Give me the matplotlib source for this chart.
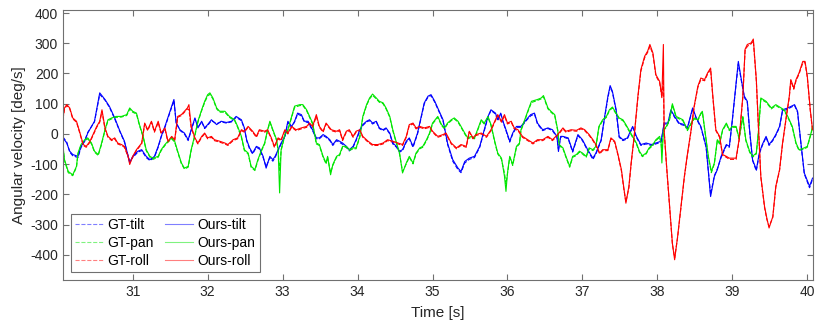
import matplotlib
matplotlib.use('Agg')
import matplotlib.pyplot as plt

plt.rcParams['font.family'] = ['Liberation Sans', 'DejaVu Sans']
plt.rcParams['axes.unicode_minus'] = False

# ---- tilt (blue) ----
tilt_t = [30.07, 30.12, 30.16, 30.20, 30.27, 30.31, 30.36, 30.40, 30.49, 30.56,
          30.63, 30.69, 30.76, 30.83, 30.89, 30.96, 31.00, 31.07, 31.12, 31.18,
          31.23, 31.29, 31.34, 31.38, 31.43, 31.49, 31.55, 31.58, 31.63, 31.69, 31.74,
          31.78, 31.83, 31.87, 31.92, 31.96, 32.00, 32.05, 32.12, 32.18, 32.25,
          32.32, 32.38, 32.45, 32.49, 32.52, 32.56, 32.60, 32.65, 32.69, 32.74,
          32.78, 32.83, 32.87, 32.90, 32.94, 32.98, 33.03, 33.07, 33.12, 33.16,
          33.20, 33.25, 33.29, 33.34, 33.40,
          33.45, 33.49, 33.54, 33.58, 33.63, 33.67, 33.72, 33.76, 33.80, 33.85,
          33.89, 33.94, 33.98, 34.03, 34.07, 34.12, 34.16, 34.20, 34.25, 34.29,
          34.34, 34.38, 34.43, 34.47, 34.52, 34.56, 34.60, 34.65, 34.69, 34.74,
          34.80, 34.85, 34.89, 34.94, 34.98, 35.03, 35.07,
          35.14, 35.20, 35.27, 35.34, 35.38, 35.43, 35.49, 35.56, 35.63, 35.69,
          35.74, 35.78, 35.84, 35.87, 35.91, 35.94, 35.98, 36.03, 36.07, 36.12,
          36.18, 36.25, 36.31, 36.36, 36.40, 36.47, 36.54, 36.60, 36.66, 36.68, 36.71,
          36.74, 36.81, 36.87, 36.94, 37.00, 37.07, 37.14, 37.18, 37.25, 37.29,
          37.34, 37.37, 37.40, 37.45, 37.49, 37.54, 37.60, 37.67, 37.72, 37.78,
          37.85, 37.92, 37.98, 38.05, 38.09, 38.14, 38.18, 38.23, 38.29, 38.36, 38.40,
          38.47, 38.52, 38.58, 38.65, 38.69, 38.71, 38.76, 38.80, 38.85, 38.92,
          38.96, 39.00, 39.05, 39.08, 39.12, 39.16, 39.20, 39.23, 39.27, 39.32,
          39.36, 39.40, 39.45, 39.49, 39.54, 39.58, 39.63, 39.67, 39.74, 39.78,
          39.83, 39.87, 39.92, 39.96, 40.03, 40.07]
ours_tilt = [-13, -30, -57, -68, -74, -41, -24, 3, 42, 136, 114, 91, 53, 9, -24, -96, -74, -57, -52, -74,
             -85, -74, -41, -8, 25, 69, 114, 36, 14, 3, -19,
             14, 53, 20, 42, 20, 31, 47, 31, 42, 38, 42, 58, 47, 20, -19, -46, -63, -41, -46, -74,
             -113, -74, -85, -74, -52, -30, -8, 42, 25, 42, 69, 64, 42, 42, 14,
             -13, -13, -2, -8, -19, -35, -19, -24, -30, -41, -52, -41, -19, 14, 31, 42, 47, 36, 42, 20,
             14, 20, 3, -30, -41, -57, -52, -24, -13, -41, 3, 58, 103, 125, 130, 108, 86,
             47, -30, -85, -113, -124, -91, -80, -74, -41, 14, 58, 80, 69, 47, 69, 42, 14, -24, 3, 25,
             25, 47, 64, 69, 36, 14, 20, 14, -8, -58, -8,
             -8, -13, -57, -2, -19, -52, -80, -63, -19, 47, 125, 160, 141, 80, -8, -19, -13, 25, -8, -35,
             -30, -35, -30, -24, 36, 36, 80, 58, 36, 31, 20,
             86, 53, 25, -41, -151, -207, -141, -118, -74, -35, -41, 47, 169, 240, 180, 125, 108, 14, -85, -118,
             -63, -35, -8, -35, -19, -2, 25, 80, 86, 91, 97, 75, -41, -129, -173, -146]
gt_tilt = [-10, -27, -60, -72, -78, -45, -22, 5, 40, 131, 112, 88, 50, 7, -27, -92, -78, -60, -55, -78,
           -88, -77, -44, -10, 22, 66, 110, 38, 12, 0, -22,
           11, 50, 22, 40, 18, 28, 44, 34, 40, 36, 40, 55, 44, 18, -22, -50, -66, -44, -50, -78,
           -108, -78, -90, -78, -55, -33, -10, 38, 22, 40, 66, 60, 40, 38, 11,
           -16, -16, -5, -11, -22, -38, -22, -28, -34, -44, -56, -44, -22, 10, 28, 40, 44, 33, 40, 18,
           11, 18, 0, -33, -44, -60, -55, -27, -16, -44, 0, 55, 100, 122, 127, 105, 83,
           44, -34, -90, -118, -128, -96, -84, -78, -44, 10, 55, 78, 66, 44, 66, 40, 11, -27, 0, 22,
           22, 44, 60, 66, 33, 11, 18, 11, -11, -50, -10,
           -10, -16, -60, -5, -22, -55, -84, -66, -22, 44, 120, 155, 138, 76, -11, -22, -16, 22, -11, -38,
           -33, -38, -33, -27, 33, 33, 76, 55, 33, 28, 18,
           82, 50, 22, -44, -146, -200, -138, -115, -78, -38, -44, 44, 165, 232, 176, 121, 104, 11, -88, -122,
           -66, -38, -11, -38, -22, -5, 22, 76, 82, 88, 94, 72, -44, -132, -178, -150]

# ---- pan (green) ----
pan_t = [30.07, 30.09, 30.14, 30.20, 30.25, 30.27, 30.31, 30.36, 30.40, 30.45,
         30.49, 30.54, 30.58, 30.63, 30.67, 30.72, 30.78, 30.85, 30.92, 30.96,
         31.00, 31.05, 31.09, 31.14, 31.18, 31.23, 31.27, 31.34, 31.38, 31.43,
         31.47, 31.52, 31.56, 31.60, 31.65, 31.69, 31.74,
         31.78, 31.83, 31.87, 31.92, 31.96, 32.00, 32.03, 32.07, 32.12, 32.16,
         32.23, 32.29, 32.36, 32.40, 32.45, 32.49, 32.54, 32.58, 32.63, 32.67,
         32.72, 32.76, 32.80, 32.83, 32.87, 32.92, 32.94, 32.96, 32.98, 33.03,
         33.07, 33.12, 33.16, 33.23, 33.27, 33.32, 33.36, 33.40,
         33.45, 33.49, 33.54, 33.58, 33.60, 33.64, 33.67, 33.72, 33.76, 33.80,
         33.85, 33.89, 33.94, 33.98, 34.03, 34.07, 34.12, 34.16, 34.20, 34.25,
         34.29, 34.34, 34.38, 34.43, 34.47, 34.52, 34.56, 34.60, 34.65, 34.69,
         34.74, 34.78, 34.83, 34.87, 34.92, 34.96, 35.00, 35.07,
         35.12, 35.16, 35.20, 35.25, 35.29, 35.34, 35.38, 35.43, 35.47, 35.52,
         35.56, 35.60, 35.65, 35.69, 35.74, 35.78, 35.83, 35.87, 35.92, 35.96,
         35.98, 36.00, 36.03, 36.07, 36.12, 36.16, 36.18, 36.23, 36.27, 36.32,
         36.40, 36.45, 36.48, 36.54, 36.58, 36.63, 36.67, 36.69, 36.74,
         36.78, 36.83, 36.87, 36.92, 36.96, 37.00, 37.05, 37.09, 37.14, 37.18,
         37.22, 37.27, 37.32, 37.36, 37.40, 37.45, 37.49, 37.54, 37.58, 37.63,
         37.67, 37.72, 37.76, 37.80, 37.85, 37.89, 37.94, 37.98, 38.03, 38.05,
         38.06, 38.08, 38.12, 38.16, 38.20, 38.25, 38.29, 38.34, 38.38,
         38.40, 38.45, 38.49, 38.54, 38.58, 38.60, 38.65, 38.68, 38.72, 38.76,
         38.80, 38.83, 38.87, 38.92, 38.96, 39.00, 39.05, 39.09, 39.14, 39.18,
         39.23, 39.27, 39.32, 39.35, 39.38, 39.45, 39.52, 39.58, 39.65, 39.69,
         39.74, 39.80, 39.85, 39.89, 39.96, 40.00, 40.05, 40.07]
ours_pan = [-41, -85, -124, -135, -107, -63, -35, -19, -13, -30, -57, -68, -35, 14, 47, 53, 58, 58, 64, 86,
            75, 69, 31, -8, -52, -74, -80, -74, -52, -35, -24, -13, -24, -57, -96, -113, -107,
            -52, -2, 42, 80, 108, 130, 136, 119, 86, 75, 75, 58, 47, 25, -8, -52, -63, -107, -118, -85,
            -52, -30, 14, 42, 14, -19, -52, -195, -52, -2, 14, 58, 92, 97, 97, 80, 58, 36,
            -30, -35, -74, -96, -74, -135, -101, -74, -68, -41, -41, -52, -46, -46, -8, 58, 97, 119, 132, 119,
            108, 103, 86, 58, 14, -30, -63, -129, -96, -74, -96, -63, -46, -41, -19, 3, 36, 58,
            31, 20, 36, 47, 53, 42, 25, 3, -13, -8, -13, 14, 47, 36, 58, 31, -24, -63, -80, -140,
            -190, -129, -74, -101, -41, -30, 14, 47, 75, 108, 114, 119, 127, 86, 75, 64, 14, -35, -46,
            -74, -107, -74, -68, -57, -63, -74, -46, -52, -41, 25, 47, 58, 80, 89, 69, 53, 47, 31, 9,
            -8, -30, -57, -72, -63, -46, -35, -19, -8, -30, -96, 14, 25, 47, 100, 58, 53, 47, 25,
            14, 36, 53, 47, 69, 75, -19, -74, -124, -96, -19, -30, 14, 36, 14, 25, 25, -13, 58, -19,
            -57, -74, -63, 14, 119, 108, 86, 97, 86, 80, 58, 25, -30, -52, -46, -41, 3, 25]
gt_pan = [-44, -88, -128, -138, -110, -66, -38, -22, -16, -33, -60, -71, -38, 11, 44, 50, 55, 56, 61, 82,
          72, 66, 28, -11, -55, -77, -84, -77, -55, -38, -27, -16, -27, -60, -99, -116, -110,
          -55, -5, 39, 77, 104, 126, 131, 116, 83, 72, 72, 55, 44, 22, -11, -55, -66, -110, -121, -88,
          -55, -33, 11, 39, 11, -22, -55, -120, -55, -5, 11, 55, 88, 94, 94, 77, 55, 33,
          -33, -38, -77, -99, -77, -128, -104, -77, -71, -44, -44, -55, -49, -49, -11, 55, 94, 116, 128, 116,
          105, 100, 83, 55, 11, -33, -66, -124, -99, -77, -99, -66, -49, -44, -22, 0, 33, 55,
          28, 17, 33, 44, 50, 39, 22, 0, -16, -11, -16, 11, 44, 33, 55, 28, -27, -66, -84, -130,
          -165, -132, -77, -104, -44, -33, 11, 44, 72, 104, 111, 116, 123, 83, 72, 61, 11, -38, -49,
          -77, -110, -77, -71, -60, -66, -77, -49, -55, -44, 22, 44, 55, 77, 86, 66, 50, 44, 28, 6,
          -11, -33, -60, -75, -66, -49, -38, -22, -11, -33, -60, 11, 22, 44, 96, 55, 50, 44, 22,
          11, 33, 50, 44, 66, 72, -22, -77, -128, -99, -22, -33, 11, 33, 11, 22, 22, -16, 55, -22,
          -60, -77, -66, 11, 115, 105, 83, 94, 83, 77, 55, 22, -33, -55, -49, -44, 0, 22]

# ---- roll (red) ----
roll_t = [30.07, 30.09, 30.12, 30.16, 30.20, 30.25, 30.29, 30.34, 30.38, 30.43,
          30.47, 30.52, 30.56, 30.59, 30.63, 30.67, 30.72, 30.76, 30.80, 30.85,
          30.89, 30.94, 30.96, 31.00, 31.05, 31.12, 31.16, 31.20, 31.25, 31.29,
          31.34, 31.38, 31.43, 31.47, 31.52, 31.56, 31.60, 31.65, 31.69, 31.73,
          31.75, 31.78, 31.83, 31.87, 31.92, 31.96, 32.00, 32.05, 32.09, 32.16,
          32.23, 32.27, 32.34, 32.40, 32.45, 32.49, 32.54, 32.60, 32.65, 32.69,
          32.76, 32.80, 32.85, 32.89, 32.94, 32.98, 33.03, 33.07, 33.12, 33.18,
          33.25, 33.32, 33.36, 33.40,
          33.45, 33.49, 33.54, 33.58, 33.65, 33.72, 33.76, 33.80, 33.85, 33.89,
          33.94, 33.98, 34.03, 34.07, 34.14, 34.20, 34.27, 34.34, 34.40, 34.47,
          34.54, 34.60, 34.65, 34.69, 34.74, 34.78, 34.83, 34.89, 34.96, 35.00, 35.07,
          35.14, 35.18, 35.25, 35.32, 35.38, 35.45, 35.49, 35.54, 35.58, 35.65,
          35.72, 35.78, 35.83, 35.87, 35.92, 35.96, 36.00, 36.05, 36.09, 36.14,
          36.20, 36.27, 36.34, 36.40, 36.47, 36.54, 36.60, 36.67, 36.74,
          36.78, 36.85, 36.92, 36.98, 37.03, 37.09, 37.14, 37.18, 37.23, 37.27,
          37.34, 37.38, 37.43, 37.47, 37.52, 37.55, 37.58, 37.62, 37.65, 37.69,
          37.74, 37.78, 37.83, 37.87, 37.90, 37.94, 37.98, 38.03, 38.06, 38.08,
          38.09, 38.12, 38.16, 38.20, 38.23, 38.27, 38.32, 38.36, 38.40,
          38.45, 38.49, 38.54, 38.58, 38.63, 38.67, 38.71, 38.74, 38.78, 38.83,
          38.87, 38.92, 38.96, 39.05, 39.09, 39.14, 39.17, 39.20, 39.25, 39.28,
          39.32, 39.35, 39.38, 39.43, 39.46, 39.49, 39.54, 39.58, 39.63, 39.67,
          39.72, 39.76, 39.78, 39.82, 39.85, 39.89, 39.94, 39.97, 40.00, 40.04, 40.07]
ours_roll = [53, 86, 97, 86, 53, 42, 9, -35, -41, -24, -2, 25, 42, 80, 20, -8, -19, -13, -30, -35,
             -41, -74, -101, -74, -52, -30, 36, 14, 42, 9, 42, 3, 20, -24, -8, -19, 58, 64, 75, 86,
             97, 25, -13, -30, -8, 3, -13, -8, -19, -24, -30, -35, -19, -13, 14, 9, 25, 9, -8, 14,
             9, 14, -13, -41, -13, -19, 14, 3, 25, 14, 20, 25, 36, 25,
             64, 25, 9, 36, 14, 9, 14, -19, 9, 14, -8, 9, 14, -8, -24, -35, -35, -30, -19, -24,
             -30, -35, -8, 31, 36, 20, 25, 20, 25, 9, -8,
             -2, 3, -30, -46, -35, -41, 9, -13, -2, 3, -8, 14, 42, 64, 42, 64, 36, 42, 20, 14,
             -8, -19, -30, -19, -19, -8, -19, -2, 20,
             9, 14, 12, 20, 14, -2, -19, -35, -63, -52, -52, -13, -24, -63, -118, -173, -229, -173, -96, -8,
             125, 213, 257, 274, 296, 268, 196, 174, 124, 296, 14, -96, -229, -361, -416, -339, -229, -140, -68,
             14, 91, 158, 185, 180, 202, 218, 125, 14, -8, -68, -74, -80, -80, -19, 125, 280, 296, 301, 314,
             180, 14, -140, -240, -278, -311, -273, -173, -118, -30, 58, 125, 180, 152, 180, 202, 240, 240, 191, 80, 14]
gt_roll = [50, 82, 94, 83, 50, 39, 6, -38, -44, -27, -5, 22, 39, 74, 17, -11, -22, -16, -33, -38,
           -44, -77, -96, -77, -55, -33, 33, 11, 39, 6, 38, 0, 17, -27, -11, -22, 55, 61, 72, 83,
           80, 22, -16, -33, -11, 0, -16, -11, -22, -27, -33, -38, -22, -16, 11, 6, 22, 6, -11, 11,
           6, 11, -16, -44, -16, -22, 11, 0, 22, 11, 17, 22, 33, 22,
           58, 22, 6, 33, 11, 6, 11, -22, 6, 11, -11, 6, 11, -11, -27, -38, -38, -33, -22, -27,
           -33, -38, -11, 28, 33, 17, 22, 17, 22, 6, -11,
           -5, 0, -33, -49, -38, -44, 6, -16, -5, 0, -11, 11, 39, 60, 39, 60, 33, 39, 17, 11,
           -11, -22, -33, -22, -22, -11, -22, -5, 17,
           6, 11, 9, 17, 11, -5, -22, -38, -66, -55, -55, -16, -27, -66, -122, -178, -225, -178, -99, -11,
           120, 208, 252, 270, 290, 264, 192, 170, 120, 180, 11, -99, -232, -364, -410, -342, -232, -143, -71,
           11, 88, 154, 180, 176, 198, 214, 121, 11, -11, -71, -77, -84, -84, -22, 121, 276, 290, 298, 308,
           176, 11, -143, -244, -282, -306, -276, -176, -121, -33, 55, 121, 176, 148, 176, 198, 235, 236, 188, 77, 11]

fig = plt.figure(figsize=(8.3, 3.32), dpi=100)
ax = fig.add_axes([0.0759, 0.1566, 0.9036, 0.8133])

lw = 0.8
ax.plot(tilt_t, gt_tilt, '--', color='#0000ff', lw=lw, label='GT-tilt')
ax.plot(pan_t, gt_pan, '--', color='#00e600', lw=lw, label='GT-pan')
ax.plot(roll_t, gt_roll, '--', color='#ff0000', lw=lw, label='GT-roll')
ax.plot(tilt_t, ours_tilt, '-', color='#0000ff', lw=lw, label='Ours-tilt')
ax.plot(pan_t, ours_pan, '-', color='#00e600', lw=lw, label='Ours-pan')
ax.plot(roll_t, ours_roll, '-', color='#ff0000', lw=lw, label='Ours-roll')

ax.set_xlim(30.07, 40.076)
ax.set_ylim(-483, 410)
ax.set_xticks([31, 32, 33, 34, 35, 36, 37, 38, 39, 40])
ax.set_yticks([-400, -300, -200, -100, 0, 100, 200, 300, 400])

frame = '#707070'
for s in ax.spines.values():
    s.set_color(frame)
    s.set_linewidth(0.8)
ax.tick_params(direction='in', length=4.5, width=0.8, color=frame,
               labelcolor='#262626', labelsize=10, top=True, right=True)
ax.set_xlabel('Time [s]', fontsize=11, color='#262626', labelpad=5)
ax.set_ylabel('Angular velocity [deg/s]', fontsize=11, color='#262626', labelpad=3)

leg = ax.legend(ncol=2, loc='lower left', bbox_to_anchor=(0.0, 0.0), fontsize=10,
                frameon=True, fancybox=False, framealpha=1, edgecolor=frame,
                handlelength=2.0, columnspacing=0.8, labelspacing=0.3,
                borderpad=0.3, handletextpad=0.35, borderaxespad=0.55)
leg.get_frame().set_linewidth(0.8)
for h in leg.legend_handles:
    h.set_alpha(0.5)

fig.savefig('out.png', dpi=100)
